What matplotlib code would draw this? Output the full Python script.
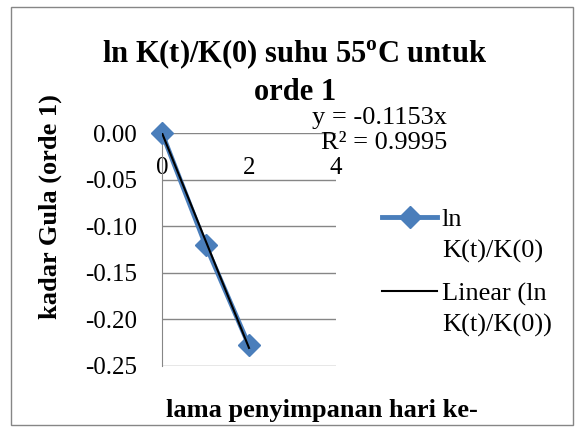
import matplotlib
matplotlib.use("Agg")
import matplotlib.pyplot as plt
from matplotlib.patches import Rectangle

# data
days = [0, 1, 2]
ln_ratio = [0.0, -0.12, -0.228]
slope = -0.1153
r2 = 0.9995
xticks = [0, 2, 4]
yticks = [0.00, -0.05, -0.10, -0.15, -0.20, -0.25]

plt.rcParams["font.family"] = ["Liberation Serif", "DejaVu Serif"]

W, H = 581, 432
fig = plt.figure(figsize=(W / 100, H / 100), dpi=100)
ax = fig.add_axes([162 / W, 1 - 366 / H, (336 - 162) / W, (366 - 133) / H])

blue = "#4a7ebb"
grey = "#868686"
fs = 19

ax.plot(days, ln_ratio, color=blue, lw=3.5, marker="D", ms=11,
        label="ln", zorder=3, clip_on=False)
trend = [slope * d for d in days]
ax.plot(days, trend, color="black", lw=1.5, label="Linear (ln", zorder=4)

ax.set_xlim(0, 4)
ax.set_ylim(-0.25, 0.0)
ax.set_xticks(xticks)
ax.set_yticks(yticks)
ax.set_yticklabels([f"{v:.2f}" for v in yticks])
ax.tick_params(axis="y", labelsize=18, length=0, pad=18)
ax.tick_params(axis="x", labelsize=18, length=0, pad=17)
ax.grid(axis="y", color=grey, lw=1)
ax.set_axisbelow(True)
ax.spines["top"].set_visible(False)
ax.spines["right"].set_visible(False)
ax.spines["left"].set_color(grey)
# horizontal axis crosses at y = 0, labels hang below it
ax.spines["bottom"].set_position(("data", 0))
ax.spines["bottom"].set_color("none")

fig.text(379 / W, 1 - 118 / H, f"y = {slope}x", fontsize=fs,
         ha="center", va="center")
fig.text(384 / W, 1 - 143 / H, f"R² = {r2}", fontsize=fs,
         ha="center", va="center")

fig.text(295 / W, 1 - 54 / H, "ln K(t)/K(0) suhu 55$^{\\mathregular{o}}$C untuk",
         fontsize=22, fontweight="bold", ha="center", va="center")
fig.text(295 / W, 1 - 93 / H, "orde 1",
         fontsize=22, fontweight="bold", ha="center", va="center")
fig.text(50 / W, 1 - 207 / H, "kadar Gula (orde 1)", rotation=90,
         fontsize=fs, fontweight="bold", ha="center", va="center")
fig.text(322 / W, 1 - 410 / H, "lama penyimpanan hari ke-",
         fontsize=fs, fontweight="bold", ha="center", va="center")

# legend: handle sits beside the first line of each label
leg = fig.legend(loc="upper left", bbox_to_anchor=(382 / W, 1 - 208 / H),
                 frameon=False, fontsize=fs, handlelength=2.1,
                 handletextpad=0.17, labelspacing=1.9, borderpad=0,
                 borderaxespad=0)
fig.text(442 / W, 1 - 251 / H, "K(t)/K(0)", fontsize=fs, ha="left", va="center")
fig.text(442 / W, 1 - 325 / H, "K(t)/K(0))", fontsize=fs, ha="left", va="center")

fig.patches.append(Rectangle((11 / W, 1 - 425 / H), (573 - 11) / W, (425 - 7) / H,
                             transform=fig.transFigure, fill=False,
                             edgecolor=grey, lw=1))

fig.savefig("out.png", dpi=100)
